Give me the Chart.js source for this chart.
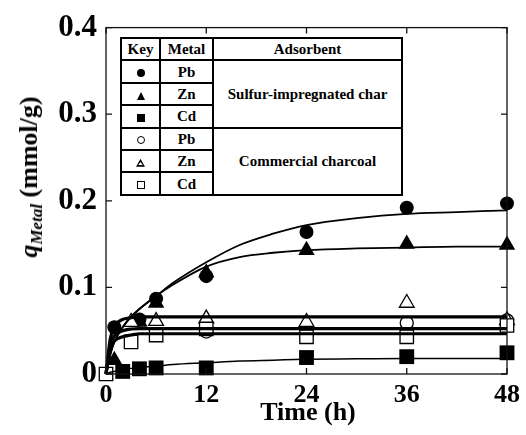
<!DOCTYPE html>
<html>
<head>
<meta charset="utf-8">
<script src="https://cdn.jsdelivr.net/npm/chart.js@4"></script>
<style>
  html,body{margin:0;padding:0;background:#fff;}
  #wrap{position:relative;width:526px;height:435px;font-family:"Liberation Serif","Times New Roman",serif;color:#000;}
  #c{position:absolute;left:0;top:0;}
  #ytitle{position:absolute;left:33px;top:177px;transform:translate(-50%,-50%) rotate(-90deg);white-space:nowrap;font-weight:bold;font-size:26px;line-height:26px;}
  #ytitle sub{font-size:17px;font-style:italic;vertical-align:-5px;}
  #xtitle{position:absolute;left:308px;top:399px;transform:translateX(-50%);white-space:nowrap;font-weight:bold;font-size:26px;line-height:26px;}
  #key{position:absolute;left:120px;top:37px;border-collapse:collapse;table-layout:fixed;background:#fff;font-family:"Liberation Serif",serif;font-weight:bold;font-size:15px;}
  #key tr{height:22.4px;}
  #key td,#key th{border:2px solid #000;padding:0;text-align:center;line-height:16px;}
  .mk{display:inline-block;box-sizing:border-box;vertical-align:middle;}
  .fc{width:8px;height:8px;border-radius:50%;background:#000;}
  .oc{width:8px;height:8px;border-radius:50%;border:1.6px solid #000;}
  .fs{width:8px;height:8px;background:#000;}
  .os{width:8px;height:8px;border:1.6px solid #000;}
  .ft{width:0;height:0;border-left:4.5px solid transparent;border-right:4.5px solid transparent;border-bottom:8px solid #000;}
  .ot{width:9px;height:8px;background:#000;clip-path:polygon(50% 0,100% 100%,0 100%);position:relative;}
  .ot::after{content:"";position:absolute;left:2px;top:3.4px;width:5px;height:3.2px;background:#fff;clip-path:polygon(50% 0,100% 100%,0 100%);}
</style>
</head>
<body>
<div id="wrap">
  <canvas id="c" width="526" height="435"></canvas>
  <div id="ytitle"><i>q</i><sub>Metal</sub>&nbsp;(mmol/g)</div>
  <div id="xtitle">Time (h)</div>
  <table id="key">
    <colgroup><col style="width:39px"><col style="width:53px"><col style="width:189px"></colgroup>
    <tr><th>Key</th><th>Metal</th><th>Adsorbent</th></tr>
    <tr><td><span class="mk fc"></span></td><td>Pb</td><td rowspan="3">Sulfur-impregnated char</td></tr>
    <tr><td><span class="mk ft"></span></td><td>Zn</td></tr>
    <tr><td><span class="mk fs"></span></td><td>Cd</td></tr>
    <tr><td><span class="mk oc"></span></td><td>Pb</td><td rowspan="3">Commercial charcoal</td></tr>
    <tr><td><span class="mk ot"></span></td><td>Zn</td></tr>
    <tr><td><span class="mk os"></span></td><td>Cd</td></tr>
  </table>
</div>
<script>
/* data */
const xTicks=[0,12,24,36,48];
const yTicks=[0,0.1,0.2,0.3,0.4];

// measured points, sulfur-impregnated char (filled)
const tPbS=[1,4,6,12,24,36,48],  pbS=[0.054,0.063,0.087,0.113,0.164,0.192,0.197];
const tZnS=[1,4,6,12,24,36,48],  znS=[0.016,0.060,0.082,0.117,0.143,0.150,0.149];
const tCdS=[2,4,6,12,24,36,48],  cdS=[0.003,0.006,0.007,0.007,0.019,0.020,0.0245];
// measured points, commercial charcoal (open)
const tPbC=[3,6,12,24,36,48],    pbC=[0.038,0.046,0.049,0.044,0.059,0.062];
const tZnC=[3,6,12,24,36,48],    znC=[0.060,0.061,0.064,0.060,0.082,0.062];
const tCdC=[0,3,6,12,24,36,48],  cdC=[0,0.037,0.045,0.052,0.043,0.043,0.056];

// fitted curves, read at these times
const tFit=[0,0.5,1,2,3,4,6,8,12,16,20,24,30,36,42,48];
const fitPbS=[0,0.022,0.037,0.054,0.066,0.075,0.090,0.105,0.129,0.149,0.162,0.172,0.180,0.185,0.187,0.189];
const fitZnS=[0,0.022,0.037,0.054,0.066,0.075,0.090,0.103,0.124,0.135,0.140,0.143,0.145,0.146,0.147,0.147];
const fitCdS=[0,0.002,0.003,0.005,0.0065,0.0075,0.009,0.011,0.013,0.015,0.016,0.017,0.0175,0.018,0.018,0.018];
const fitZnC=[0,0.040,0.055,0.063,0.065,0.066,0.066,0.066,0.066,0.066,0.066,0.066,0.066,0.066,0.066,0.066];
const fitPbC=[0,0.033,0.044,0.050,0.052,0.0525,0.0525,0.0525,0.0525,0.0525,0.0525,0.0525,0.0525,0.0525,0.0525,0.0525];
const fitCdC=[0,0.028,0.038,0.043,0.045,0.0465,0.0465,0.0465,0.0465,0.0465,0.0465,0.0465,0.0465,0.0465,0.0465,0.0465];

const FONT='"Liberation Serif","Times New Roman",serif';
const xy=(t,v)=>t.map((x,i)=>({x,y:v[i]}));
// lower order is painted later (on top)
const fit=(v,w)=>({data:xy(tFit,v),showLine:true,pointRadius:0,borderColor:'#000',borderWidth:w,cubicInterpolationMode:'monotone',order:0});
const pts=(t,v,style,r,open,ord)=>({data:xy(t,v),showLine:false,pointStyle:style,pointRadius:r,pointHoverRadius:r,
  backgroundColor:open?'#fff':'#000',borderColor:'#000',borderWidth:open?1.3:0,order:ord});

// inward ticks + frame around the plot area
const frame={id:'frame',afterDraw(ch){
  const {ctx,chartArea:a,scales:{x,y}}=ch;const L=6;
  ctx.save();ctx.strokeStyle='#111';ctx.lineWidth=1.3;
  ctx.strokeRect(a.left,a.top,a.right-a.left,a.bottom-a.top);
  ctx.beginPath();
  xTicks.forEach(v=>{const p=x.getPixelForValue(v);ctx.moveTo(p,a.bottom);ctx.lineTo(p,a.bottom-L);ctx.moveTo(p,a.top);ctx.lineTo(p,a.top+L);});
  yTicks.forEach(v=>{const p=y.getPixelForValue(v);ctx.moveTo(a.left,p);ctx.lineTo(a.left+L,p);ctx.moveTo(a.right,p);ctx.lineTo(a.right-L,p);});
  ctx.stroke();ctx.restore();
}};

new Chart(document.getElementById('c'),{
  type:'scatter',
  data:{datasets:[
    fit(fitPbS,1.8),fit(fitZnS,1.8),fit(fitCdS,1.5),
    fit(fitZnC,3.2),fit(fitPbC,3.2),fit(fitCdC,3.2),
    pts(tPbS,pbS,'circle',7,false,4),pts(tZnS,znS,'triangle',9.5,false,5),pts(tCdS,cdS,'rect',10.5,false,4),
    pts(tPbC,pbC,'circle',6.5,true,3),pts(tZnC,znC,'triangle',8.5,true,2),pts(tCdC,cdC,'rect',9.5,true,1)
  ]},
  options:{
    responsive:false,animation:false,clip:false,
    layout:{padding:{top:26,right:15,left:0,bottom:0}},
    plugins:{legend:{display:false},tooltip:{enabled:false}},
    scales:{
      x:{type:'linear',min:0,max:48,
        afterBuildTicks:s=>{s.ticks=xTicks.map(v=>({value:v}));},
        afterFit:s=>{s.height=61;},
        grid:{display:false,drawTicks:false},border:{display:false},
        ticks:{color:'#000',padding:6,font:{family:FONT,size:26,weight:'bold'},maxRotation:0}},
      y:{type:'linear',min:0,max:0.4,
        afterBuildTicks:s=>{s.ticks=yTicks.map(v=>({value:v}));},
        afterFit:s=>{s.width=106;},
        grid:{display:false,drawTicks:false},border:{display:false},
        ticks:{color:'#000',padding:9,font:{family:FONT,size:31,weight:'bold'},callback:v=>v===0?'0':v.toFixed(1)}}
    }
  },
  plugins:[frame]
});
</script>
</body>
</html>
